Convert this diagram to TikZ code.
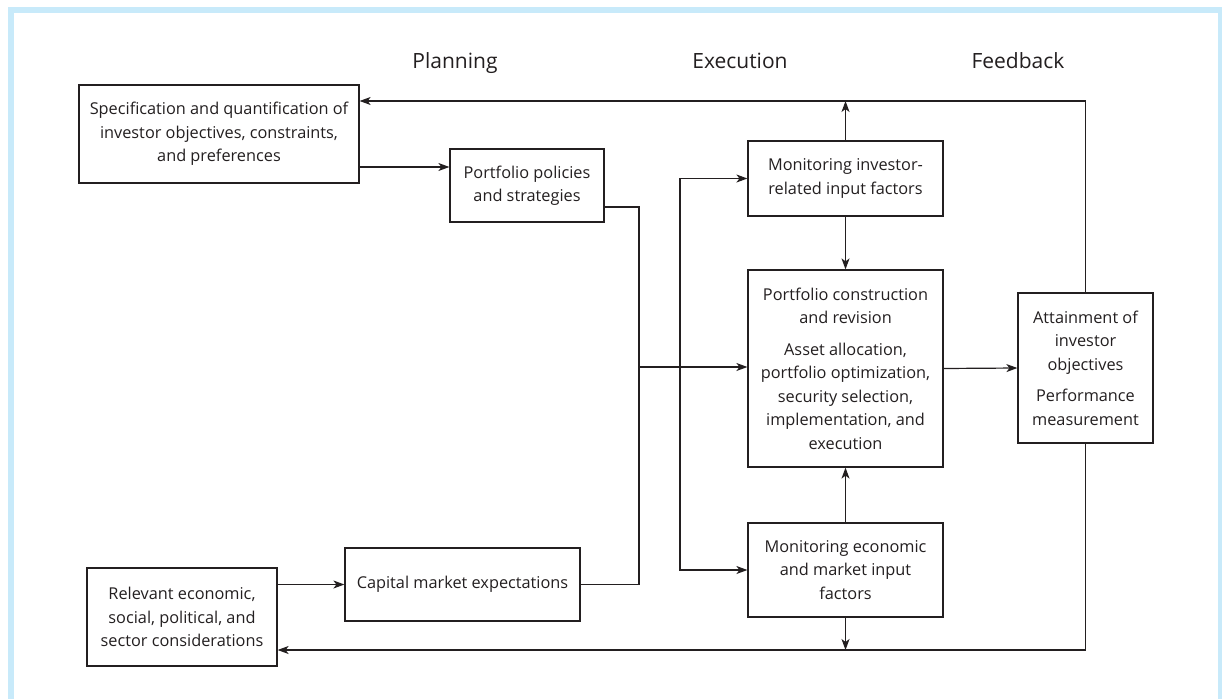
\documentclass[tikz,border=0pt]{standalone}
\usepackage{fontspec}
\setmainfont{Open Sans}
\usepackage{tikz}
\usetikzlibrary{positioning, calc, arrows.meta}
\definecolor{framecol}{RGB}{200,234,250}
\definecolor{inkcol}{RGB}{35,31,32}

\begin{document}
\begin{tikzpicture}[
    x=1pt, y=-1pt,
    box/.style={rectangle, draw=inkcol, line width=1.2pt, align=center, inner sep=0pt, text=inkcol, font=\fontsize{16.3}{23.5}\selectfont},
    phase/.style={anchor=base, text=inkcol, font=\fontsize{21}{25}\selectfont},
    link/.style={draw=inkcol, line width=1.2pt},
    arr/.style={link, -{Stealth[length=11pt, width=8pt, inset=3pt]}}
  ]
  \clip (0,0) rectangle (1222,698);
  \fill[white] (0,0) rectangle (1222,698);
  \draw[framecol, line width=6pt] (10.5,10) rectangle (1221,720);

  \node[phase] (plan) at (455,69) {Planning};
  \node[phase] (exec) at (740,69) {Execution};
  \node[phase] (feed) at (1018,69) {Feedback};

  \node[box, minimum width=280pt, minimum height=98pt] (spec) at (219,134) {Specification and quantification of\\investor objectives, constraints,\\and preferences};
  \node[box, minimum width=154pt, minimum height=73pt] (policy) at (527,185.5) {Portfolio policies\\and strategies};
  \node[box, minimum width=190pt, minimum height=98pt] (env) at (182,617) {Relevant economic,\\social, political, and\\sector considerations};
  \node[box, minimum width=235pt, minimum height=73pt] (cme) at (462.5,584.5) {Capital market expectations};
  \node[box, minimum width=195pt, minimum height=75pt] (moninv) at (845.5,178.5) {Monitoring investor-\\related input factors};
  \node[box, minimum width=195pt, minimum height=197pt] (build) at (845.5,368.5) {Portfolio construction\\and revision\\[8pt]Asset allocation,\\portfolio optimization,\\security selection,\\implementation, and\\execution};
  \node[box, minimum width=195pt, minimum height=94pt] (monecon) at (845.5,570) {Monitoring economic\\and market input\\factors};
  \node[box, minimum width=135pt, minimum height=150pt] (attain) at (1085.5,368) {Attainment of\\investor\\objectives\\[8pt]Performance\\measurement};

  \coordinate (ftop) at (1085.5,101);
  \coordinate (fbot) at (1085.5,650);
  \coordinate (merge) at (639,367);
  \coordinate (split) at (680,367);

  \draw[arr] (attain.north) -- (ftop) -- (ftop -| spec.east);
  \draw[arr] (attain.south) -- (fbot) -- (fbot -| env.east);
  \draw[arr] (moninv.north) -- (moninv.north |- ftop);
  \draw[arr] (monecon.south) -- (monecon.south |- fbot);
  \draw[arr] (moninv) -- (build);
  \draw[arr] (monecon) -- (build);
  \draw[arr] (spec.east |- 0,167) -- (policy.west |- 0,167);
  \draw[arr] (env.east |- cme.west) -- (cme.west);
  \draw[link] (policy.east |- 0,207) -| (merge);
  \draw[link] (cme.east) -| (merge);
  \draw[arr] (merge) -- (build.west |- merge);
  \draw[arr] (split) |- (moninv.west);
  \draw[arr] (split) |- (monecon.west);
  \draw[arr] (build.east) -- (attain.west);
\end{tikzpicture}
\end{document}
